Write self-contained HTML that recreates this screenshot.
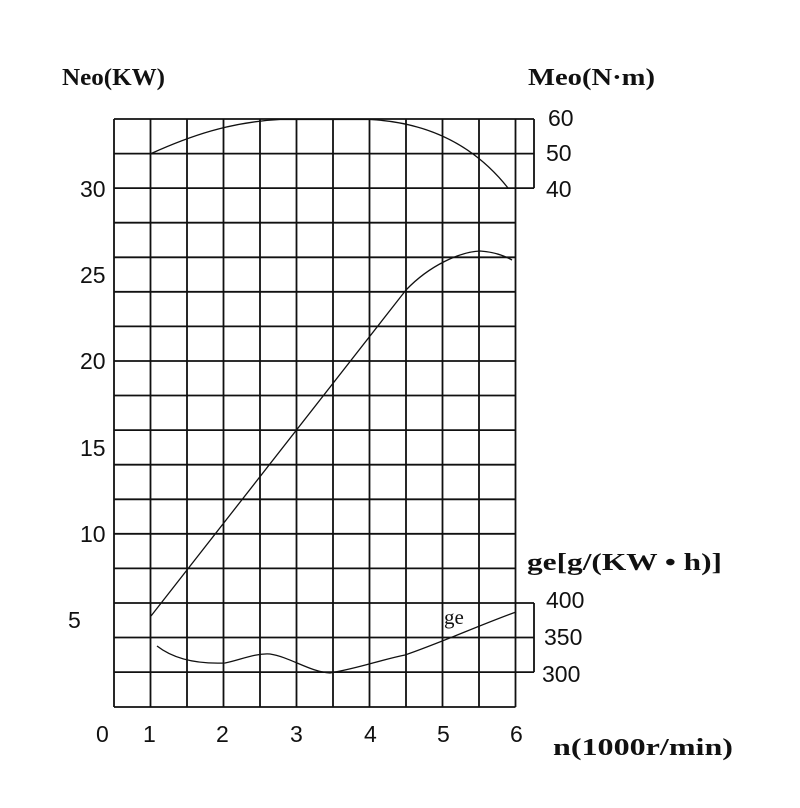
<!DOCTYPE html>
<html><head><meta charset="utf-8"><style>
html,body{margin:0;padding:0;background:#fff;}
</style></head><body>
<svg width="800" height="803" xmlns="http://www.w3.org/2000/svg">
<rect width="800" height="803" fill="#fff"/>
<g stroke="#111" stroke-width="1.8" fill="none">
<path d="M114 119V707 M150.5 119V707 M187 119V707 M223.5 119V707 M260 119V707 M296.5 119V707 M333 119V707 M369.5 119V707 M406 119V707 M442.5 119V707 M479 119V707 M515.5 119V707"/>
<path d="M114 119H534 M114 153.6H534 M114 188.1H534 M114 222.7H515.5 M114 257.3H515.5 M114 291.8H515.5 M114 326.4H515.5 M114 361H515.5 M114 395.5H515.5 M114 430.1H515.5 M114 464.7H515.5 M114 499.3H515.5 M114 533.8H515.5 M114 568.4H515.5 M114 603H534 M114 637.5H534 M114 672.1H534 M114 707H515.5"/>
<path d="M534 119V188.1 M534 603V672.1"/>
</g>
<g stroke="#111" stroke-width="1.3" fill="none">
<path d="M151 153.6 C190 136 230 122 280 119.5 L370 119.5 C420 122 470 140 508 188"/>
<path d="M151 616 L406 290 C430 265 460 252 480 251 C495 252 505 256 512 260"/>
<path d="M157 646 C175 660 200 664 225 663 C240 660 255 653 270 654 C290 657 310 672 330 673 C360 668 380 660 405 655 C440 643 480 625 516 612"/>
</g>
<g font-family="Liberation Sans, sans-serif" font-size="23" fill="#111">
<text x="80" y="197">30</text>
<text x="80" y="283">25</text>
<text x="80" y="369">20</text>
<text x="80" y="456">15</text>
<text x="80" y="542">10</text>
<text x="68" y="628">5</text>
<text x="548" y="126">60</text>
<text x="546" y="161">50</text>
<text x="546" y="197">40</text>
<text x="546" y="608">400</text>
<text x="544" y="645">350</text>
<text x="542" y="682">300</text>
<text x="96" y="742">0</text>
<text x="143" y="742">1</text>
<text x="216" y="742">2</text>
<text x="290" y="742">3</text>
<text x="364" y="742">4</text>
<text x="437" y="742">5</text>
<text x="510" y="742">6</text>
<text x="444" y="624" font-family="Liberation Serif, serif" font-size="21">ge</text>
</g>
<g font-family="Liberation Serif, serif" font-size="24" font-weight="bold" fill="#111">
<text x="62" y="85" textLength="103" lengthAdjust="spacingAndGlyphs">Neo(KW)</text>
<text x="528" y="85" textLength="127" lengthAdjust="spacingAndGlyphs">Meo(N·m)</text>
<text x="527" y="570" textLength="195" lengthAdjust="spacingAndGlyphs">ge[g/(KW • h)]</text>
<text x="553" y="755" textLength="180" lengthAdjust="spacingAndGlyphs">n(1000r/min)</text>
</g>
</svg>
</body></html>
